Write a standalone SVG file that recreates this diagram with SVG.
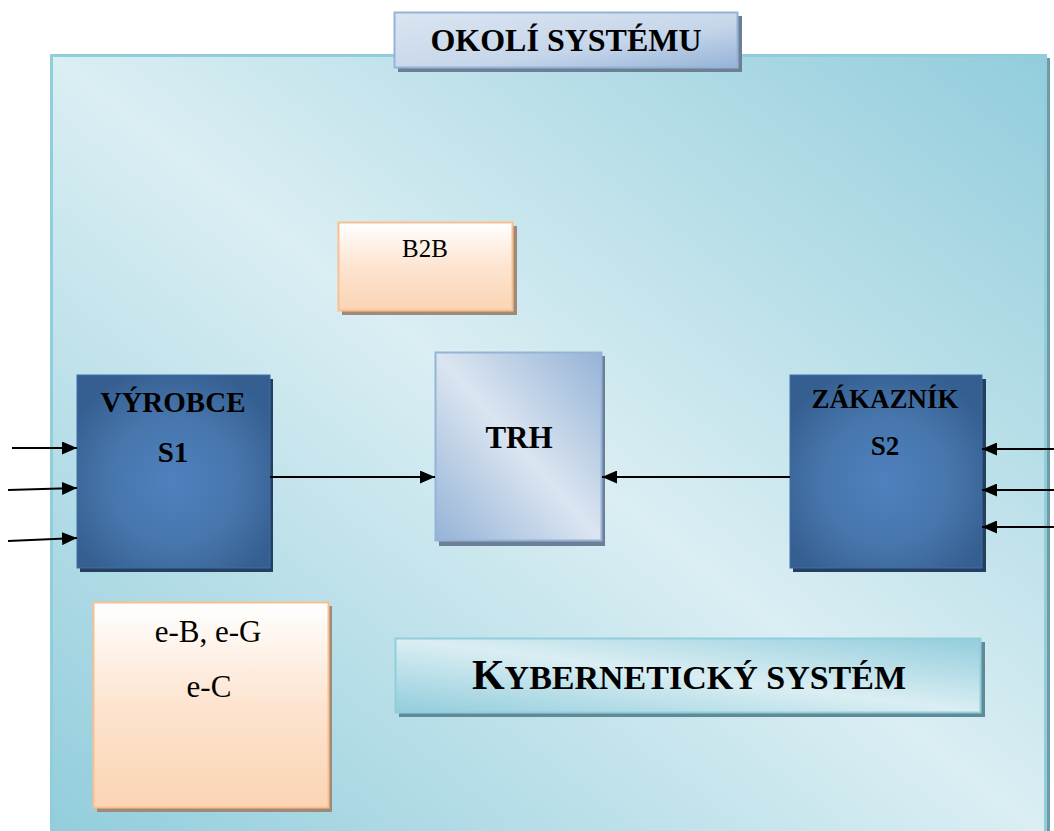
<svg xmlns="http://www.w3.org/2000/svg" width="1054" height="831" viewBox="0 0 1054 831">
<defs>
<linearGradient id="bg" x1="1" y1="0" x2="0" y2="1">
<stop offset="0" stop-color="#92cddc"/>
<stop offset="0.5" stop-color="#daeef3"/>
<stop offset="1" stop-color="#92cddc"/>
</linearGradient>
<linearGradient id="blueLight" x1="1" y1="0" x2="0" y2="1">
<stop offset="0" stop-color="#95b3d7"/>
<stop offset="0.5" stop-color="#dbe5f1"/>
<stop offset="1" stop-color="#95b3d7"/>
</linearGradient>
<linearGradient id="okoli" x1="0" y1="0" x2="1" y2="1">
<stop offset="0" stop-color="#dbe5f1"/>
<stop offset="0.6" stop-color="#c6d6ea"/>
<stop offset="1" stop-color="#95b3d7"/>
</linearGradient>
<linearGradient id="peach" x1="0" y1="0" x2="0" y2="1">
<stop offset="0" stop-color="#ffffff"/>
<stop offset="0.5" stop-color="#fde4d0"/>
<stop offset="1" stop-color="#fbd4b4"/>
</linearGradient>
<linearGradient id="cyan" x1="1" y1="0" x2="0" y2="1">
<stop offset="0" stop-color="#92cddc"/>
<stop offset="0.5" stop-color="#daeef3"/>
<stop offset="1" stop-color="#92cddc"/>
</linearGradient>
<radialGradient id="darkBlue" cx="0.5" cy="0.55" r="0.6">
<stop offset="0" stop-color="#4f81bd"/>
<stop offset="0.55" stop-color="#4776ad"/>
<stop offset="1" stop-color="#365f91"/>
</radialGradient>
<marker id="arr" viewBox="0 0 15 13" refX="15" refY="6.5" markerWidth="15" markerHeight="13" markerUnits="userSpaceOnUse" orient="auto">
<path d="M0,0 L15,6.5 L0,13 Z" fill="#000"/>
</marker>
</defs>
<style>
.bold{font-family:"Liberation Serif","Times New Roman",serif;font-weight:bold;fill:#000;text-anchor:middle}
.reg{font-family:"Liberation Serif","Times New Roman",serif;fill:#000;text-anchor:middle}
.conn{stroke:#000;stroke-width:2;fill:none;marker-end:url(#arr)}
.shadowBlue{fill:#243f60}
</style>
<rect width="1054" height="831" fill="#ffffff"/>
<g id="system">
<rect x="1046" y="58" width="4" height="773" fill="#6f9aa6"/>
<rect x="51.5" y="55.5" width="994" height="780" fill="url(#bg)" stroke="#92cddc" stroke-width="3"/>
</g>
<g id="okoli-systemu">
<rect x="398" y="16" width="344" height="56" fill="#6d7f95"/>
<rect x="394.5" y="12.5" width="343" height="55" fill="url(#okoli)" stroke="#95b3d7" stroke-width="2"/>
<text class="bold" x="566" y="51" font-size="32">OKOLÍ SYSTÉMU</text>
</g>
<g id="b2b">
<rect x="342" y="226" width="175" height="89" fill="#9e8a78"/>
<rect x="338.5" y="222.5" width="174" height="88" fill="url(#peach)" stroke="#fabf8f" stroke-width="2"/>
<text class="reg" x="425" y="257" font-size="25">B2B</text>
</g>
<g id="vyrobce">
<rect x="80" y="379" width="193" height="193" class="shadowBlue"/>
<rect x="77" y="375" width="193" height="193" fill="url(#darkBlue)" stroke="#3f6ea6" stroke-width="1"/>
<text class="bold" x="173" y="412" font-size="29">VÝROBCE</text>
<text class="bold" x="173" y="462" font-size="29">S1</text>
</g>
<g id="trh">
<rect x="439" y="356" width="166" height="190" fill="#6d7f95"/>
<rect x="435.5" y="352.5" width="166" height="188" fill="url(#blueLight)" stroke="#95b3d7" stroke-width="2"/>
<text class="bold" x="519" y="448" font-size="31">TRH</text>
</g>
<g id="zakaznik">
<rect x="793" y="379" width="193" height="193" class="shadowBlue"/>
<rect x="790" y="375" width="192" height="193" fill="url(#darkBlue)" stroke="#3f6ea6" stroke-width="1"/>
<text class="bold" x="885" y="408" font-size="27">ZÁKAZNÍK</text>
<text class="bold" x="885" y="455" font-size="27">S2</text>
</g>
<g id="e-business">
<rect x="97" y="606" width="235" height="206" fill="#9e8a78"/>
<rect x="93.5" y="602.5" width="235" height="205" fill="url(#peach)" stroke="#fabf8f" stroke-width="2"/>
<text class="reg" x="208" y="642" font-size="31">e-B, e-G</text>
<text class="reg" x="209" y="697" font-size="31">e-C</text>
</g>
<g id="kyberneticky-system">
<rect x="399" y="642" width="586" height="75" fill="#5f8a96"/>
<rect x="395.5" y="638.5" width="585" height="74" fill="url(#cyan)" stroke="#92cddc" stroke-width="2"/>
<text class="bold" x="689" y="689" font-size="34"><tspan font-size="42">K</tspan>YBERNETICKÝ SYSTÉM</text>
</g>
<g id="connectors">
<line class="conn" x1="12" y1="448" x2="77" y2="448"/>
<line class="conn" x1="8" y1="490" x2="77" y2="488"/>
<line class="conn" x1="8" y1="541" x2="77" y2="538"/>
<line class="conn" x1="270" y1="477" x2="435" y2="477"/>
<line class="conn" x1="790" y1="477" x2="602" y2="477"/>
<line class="conn" x1="1054" y1="449" x2="982" y2="449"/>
<line class="conn" x1="1054" y1="490" x2="982" y2="490"/>
<line class="conn" x1="1054" y1="527" x2="982" y2="527"/>
</g>
</svg>
